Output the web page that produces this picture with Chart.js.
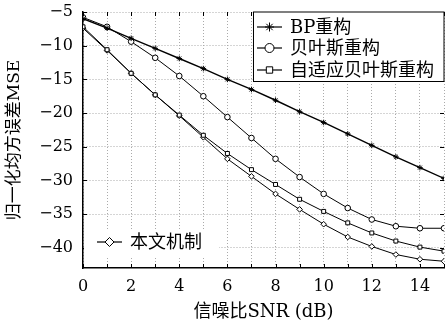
<!DOCTYPE html>
<html>
<head>
<meta charset="utf-8">
<script src="https://cdn.jsdelivr.net/npm/chart.js@4"></script>
<style>
  html, body { margin: 0; padding: 0; background: #fff; }
  #wrap { width: 445px; height: 327px; }
</style>
</head>
<body>
<div id="wrap"><canvas id="mseChart" width="445" height="327"></canvas></div>
<script>
const snr = [0, 1, 2, 3, 4, 5, 6, 7, 8, 9, 10, 11, 12, 13, 14, 15];
const bpMse = [-6.0, -7.4, -8.9, -10.4, -11.9, -13.4, -15.0, -16.5, -18.1, -19.8, -21.4, -23.1, -24.8, -26.5, -28.1, -29.7];
const bayesMse = [-5.8, -7.2, -9.4, -11.8, -14.5, -17.5, -20.6, -23.7, -26.8, -29.5, -32.0, -34.1, -35.8, -36.8, -37.1, -37.1];
const adaptiveMse = [-7.2, -10.6, -14.1, -17.3, -20.3, -23.3, -26.0, -28.4, -30.6, -32.8, -34.6, -36.3, -37.8, -39.0, -39.9, -40.5];
const oursMse = [-7.4, -10.7, -14.1, -17.3, -20.4, -23.6, -26.8, -29.4, -32.0, -34.3, -36.5, -38.4, -39.8, -41.0, -41.7, -42.0];
const xTicks = [0, 2, 4, 6, 8, 10, 12, 14];
const yTicks = [-40, -35, -30, -25, -20, -15, -10, -5];
const labels = ['BP重构', '贝叶斯重构', '自适应贝叶斯重构', '本文机制'];
const markers = ['star', 'circle', 'rect', 'rectRot'];

const serif = '"DejaVu Serif", "Noto Sans CJK SC", serif';

function series(i, vals) {
  return {
    label: labels[i],
    data: snr.map((x, k) => ({ x: x, y: vals[k] })),
    borderColor: '#000',
    backgroundColor: i === 0 ? '#000' : '#fff',
    borderWidth: i === 0 ? 1.4 : 1,
    pointStyle: markers[i],
    pointRadius: 2.8,
    pointBorderWidth: 1,
    pointBorderColor: '#000',
    tension: 0
  };
}

// hand-drawn legends + inner tick marks
const extras = {
  id: 'extras',
  afterDatasetsDraw(chart) {
    const ctx = chart.ctx;
    const a = chart.chartArea;
    const xs = chart.scales.x, ys = chart.scales.y;
    ctx.save();
    // inner ticks
    ctx.strokeStyle = '#000';
    ctx.lineWidth = 1;
    ctx.beginPath();
    snr.forEach(v => {
      const px = Math.round(xs.getPixelForValue(v)) + 0.5;
      ctx.moveTo(px, a.bottom); ctx.lineTo(px, a.bottom - 4);
      ctx.moveTo(px, a.top); ctx.lineTo(px, a.top + 4);
    });
    yTicks.forEach(v => {
      const py = Math.round(ys.getPixelForValue(v)) + 0.5;
      ctx.moveTo(a.left, py); ctx.lineTo(a.left + 4, py);
      ctx.moveTo(a.right, py); ctx.lineTo(a.right - 4, py);
    });
    ctx.stroke();

    // top-right legend box
    ctx.fillStyle = '#fff';
    ctx.fillRect(253, a.top, a.right - 253, 81 - a.top);
    ctx.strokeRect(253.5, a.top, a.right - 253.5, 81.5 - a.top);
    // bottom-left legend box
    ctx.fillRect(a.left + 1, 229, 135, 28);

    ctx.font = '18px ' + serif;
    ctx.textBaseline = 'middle';
    const entries = [[0, 27], [1, 48], [2, 70]];
    entries.forEach(([i, y]) => drawEntry(ctx, i, 257, y));
    drawEntry(ctx, 3, 97, 242);
    ctx.restore();
  }
};

function drawEntry(ctx, i, x, y) {
  ctx.strokeStyle = '#000';
  ctx.lineWidth = 1.2;
  ctx.beginPath();
  ctx.moveTo(x, y); ctx.lineTo(x + 25, y);
  ctx.stroke();
  ctx.fillStyle = '#fff';
  ctx.lineWidth = 1;
  Chart.helpers.drawPoint(ctx, { pointStyle: markers[i], radius: 4.5, borderWidth: 1 }, x + 12.5, y);
  ctx.fillStyle = '#000';
  ctx.fillText(labels[i], x + 33, y + 1);
}

new Chart(document.getElementById('mseChart'), {
  type: 'line',
  data: {
    datasets: [
      series(0, bpMse),
      series(1, bayesMse),
      series(2, adaptiveMse),
      series(3, oursMse)
    ]
  },
  plugins: [extras],
  options: {
    responsive: false,
    animation: false,
    layout: { autoPadding: false, padding: { top: 12, right: 1, left: 0, bottom: 0 } },
    plugins: { legend: { display: false }, tooltip: { enabled: false } },
    scales: {
      x: {
        type: 'linear', min: 0, max: 15,
        afterBuildTicks: s => { s.ticks = snr.map(v => ({ value: v })); },
        ticks: {
          padding: 9, color: '#000', maxRotation: 0, autoSkip: false,
          font: { family: serif, size: 16 },
          callback: v => (xTicks.includes(v) ? String(v) : '')
        },
        grid: { color: '#aaa', drawTicks: false },
        border: { color: '#000', width: 1.5, dash: [1, 2] },
        title: { display: true, text: '信噪比SNR (dB)', color: '#000', font: { family: serif, size: 18 }, padding: { top: 3 } },
        afterFit: s => { s.height = 59; s.paddingLeft = 0; s.paddingRight = 0; }
      },
      y: {
        min: -43, max: -5,
        afterBuildTicks: s => { s.ticks = yTicks.map(v => ({ value: v })); },
        ticks: {
          padding: 10, color: '#000',
          font: { family: serif, size: 16 },
          callback: v => String(v).replace('-', '\u2212')
        },
        grid: { color: '#aaa', drawTicks: false },
        border: { color: '#000', width: 1.5, dash: [1, 2] },
        title: { display: true, text: '归一化均方误差MSE', color: '#000', font: { family: serif, size: 17 }, padding: { bottom: 0 } },
        afterFit: s => { s.width = 83; s.paddingTop = 0; s.paddingBottom = 0; }
      }
    }
  }
});
</script>
</body>
</html>
